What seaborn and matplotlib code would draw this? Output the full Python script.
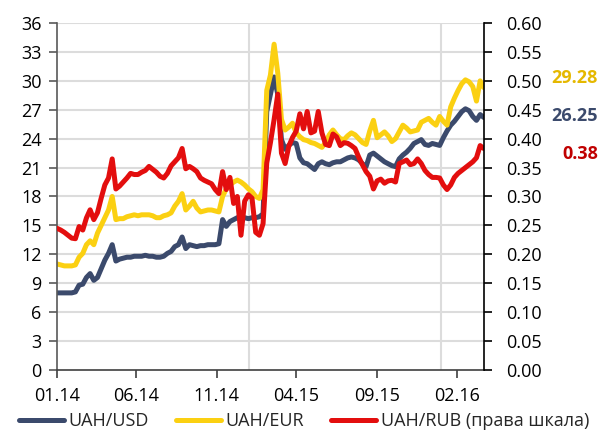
import matplotlib
matplotlib.use("Agg")
import matplotlib.pyplot as plt
import seaborn as sns
import pandas as pd

# ---------------- data (weekly readings) ----------------
start_date = "2014-01-01"
n_weeks = 117

usd = [8.0, 8.0, 8.0, 8.0, 8.0, 8.1, 8.8, 8.9, 9.6, 10.0,
       9.3, 9.6, 10.5, 11.4, 12.1, 13.0, 11.3, 11.5, 11.6, 11.7,
       11.7, 11.8, 11.8, 11.8, 11.9, 11.8, 11.8, 11.7, 11.7, 11.8,
       12.1, 12.3, 12.8, 13.0, 13.8, 12.6, 13.0, 12.9, 12.8, 12.9,
       12.9, 13.0, 13.0, 13.0, 13.1, 15.6, 14.9, 15.4, 15.6, 15.8,
       15.9, 15.8, 15.7, 15.8, 15.8, 15.9, 16.2, 26.8, 28.6, 30.4,
       28.6, 23.9, 22.9, 23.3, 23.6, 23.5, 22.0, 21.5, 21.4, 21.1,
       20.8, 21.4, 21.6, 21.4, 21.3, 21.5, 21.6, 21.6, 21.8, 22.0,
       22.1, 22.0, 21.8, 21.4, 21.1, 22.3, 22.5, 22.2, 21.9, 21.6,
       21.4, 21.2, 21.1, 21.9, 22.3, 22.6, 23.0, 23.5, 23.7, 23.9,
       23.4, 23.3, 23.5, 23.4, 23.3, 24.1, 24.8, 25.4, 25.8, 26.3,
       26.8, 27.1, 26.9, 26.3, 25.9, 26.5, 26.2]

eur = [11.0, 10.9, 10.8, 10.8, 10.8, 10.9, 11.7, 12.1, 13.0, 13.4,
       13.0, 14.2, 15.0, 15.8, 16.6, 18.0, 15.6, 15.7, 15.7, 15.9,
       16.0, 16.1, 16.0, 16.1, 16.1, 16.1, 16.0, 15.8, 15.8, 16.0,
       16.1, 16.3, 17.0, 17.5, 18.3, 16.6, 17.0, 17.5, 16.8, 16.4,
       16.5, 16.6, 16.6, 16.5, 16.4, 18.0, 18.8, 19.2, 19.5, 19.7,
       19.5, 19.2, 18.8, 18.5, 18.0, 17.8, 18.7, 29.0, 30.6, 33.8,
       30.8, 26.0, 24.9, 25.2, 25.6, 24.6, 24.2, 23.9, 23.8, 23.6,
       23.5, 23.3, 23.1, 23.6, 24.4, 24.9, 24.4, 24.0, 23.9, 24.3,
       24.6, 24.4, 24.0, 23.6, 23.4, 24.8, 25.9, 24.1, 24.4, 24.7,
       24.3, 23.7, 24.0, 24.7, 25.4, 25.1, 24.7, 24.8, 24.9, 25.7,
       25.9, 26.1, 25.7, 25.4, 26.3, 25.8, 25.4, 27.3, 28.2, 29.0,
       29.7, 30.1, 29.9, 29.4, 27.9, 30.0, 29.3]

rub = [0.245, 0.242, 0.238, 0.233, 0.228, 0.227, 0.248, 0.242, 0.263, 0.277,
       0.260, 0.272, 0.297, 0.320, 0.332, 0.365, 0.313, 0.318, 0.325, 0.332,
       0.340, 0.338, 0.338, 0.342, 0.345, 0.352, 0.347, 0.342, 0.335, 0.332,
       0.340, 0.353, 0.360, 0.367, 0.383, 0.348, 0.352, 0.348, 0.343, 0.332,
       0.328, 0.325, 0.322, 0.312, 0.305, 0.343, 0.312, 0.333, 0.288, 0.300,
       0.233, 0.292, 0.303, 0.297, 0.238, 0.233, 0.253, 0.358, 0.393, 0.433,
       0.477, 0.375, 0.357, 0.387, 0.402, 0.413, 0.443, 0.417, 0.447, 0.410,
       0.413, 0.447, 0.410, 0.390, 0.388, 0.408, 0.403, 0.388, 0.393, 0.392,
       0.388, 0.383, 0.368, 0.355, 0.343, 0.335, 0.313, 0.327, 0.330, 0.323,
       0.327, 0.328, 0.325, 0.357, 0.360, 0.363, 0.355, 0.357, 0.365, 0.357,
       0.345, 0.338, 0.333, 0.333, 0.332, 0.320, 0.312, 0.320, 0.333, 0.340,
       0.345, 0.350, 0.355, 0.360, 0.367, 0.388, 0.383]

series_labels = ["UAH/USD", "UAH/EUR", "UAH/RUB (права шкала)"]
last_labels = ["29.28", "26.25", "0.38"]
left_ticks = [0, 3, 6, 9, 12, 15, 18, 21, 24, 27, 30, 33, 36]
right_ticks = [0.00, 0.05, 0.10, 0.15, 0.20, 0.25, 0.30, 0.35, 0.40, 0.45, 0.50, 0.55, 0.60]
x_tick_dates = ["2014-01-01", "2014-06-01", "2014-11-01", "2015-04-01", "2015-09-01", "2016-02-01"]
x_tick_labels = ["01.14", "06.14", "11.14", "04.15", "09.15", "02.16"]
year_lines = ["2015-01-01", "2016-01-01"]

dates = pd.date_range(start_date, periods=n_weeks, freq="7D")
df = pd.DataFrame({"date": dates, "usd": usd, "eur": eur, "rub": rub})

# ---------------- style ----------------
sns.set_style("white")
plt.rcParams["font.family"] = ["Open Sans", "DejaVu Sans"]
FS = 13

c_usd = "#3B4A6C"
c_eur = "#FBD012"
c_rub = "#E30E0E"

fig = plt.figure(figsize=(6.02, 4.34), dpi=100)
ax = fig.add_axes([0.0947, 0.1475, 0.709, 0.7995])
ax2 = ax.twinx()

lw = 3.6
sns.lineplot(data=df, x="date", y="usd", ax=ax, color=c_usd, lw=lw, label=series_labels[0], legend=False)
sns.lineplot(data=df, x="date", y="eur", ax=ax, color=c_eur, lw=lw, label=series_labels[1], legend=False)
sns.lineplot(data=df, x="date", y="rub", ax=ax2, color=c_rub, lw=lw, label=series_labels[2], legend=False)

ax.set_ylim(0, 36)
ax2.set_ylim(0, 0.60)
ax.set_xlim(pd.Timestamp("2014-01-01"), pd.Timestamp("2016-03-23"))

ax.set_yticks(left_ticks)
ax.set_yticklabels([str(t) for t in left_ticks], fontsize=FS)
ax2.set_yticks(right_ticks)
ax2.set_yticklabels([f"{t:.2f}" for t in right_ticks], fontsize=FS)
ax.set_xticks([pd.Timestamp(d) for d in x_tick_dates])
ax.set_xticklabels(x_tick_labels, fontsize=FS)

ax.set_xlabel("")
ax.set_ylabel("")
ax2.set_ylabel("")

# grid
grid_c = "#DCDCDC"
for t in left_ticks[1:]:
    ax.axhline(t, color=grid_c, lw=1.5, zorder=0)
for d in year_lines:
    ax.axvline(pd.Timestamp(d), color=grid_c, lw=1.5, zorder=0)

# spines
for a in (ax, ax2):
    a.spines["top"].set_visible(False)
ax.spines["left"].set_color("#595959")
ax.spines["left"].set_linewidth(1.2)
ax.spines["bottom"].set_color("#404040")
ax.spines["bottom"].set_linewidth(1.2)
ax.spines["right"].set_visible(False)
ax2.spines["left"].set_visible(False)
ax2.spines["bottom"].set_visible(False)
ax2.spines["right"].set_color("#000000")
ax2.spines["right"].set_linewidth(1.2)

ax.tick_params(axis="y", which="both", left=True, length=6, width=1.2, color="#595959", pad=5, labelcolor="#000000")
ax.tick_params(axis="x", which="both", bottom=True, length=6, width=1.2, color="#404040", pad=6, labelcolor="#000000")
ax2.tick_params(axis="y", which="both", right=True, length=6, width=1.2, color="#000000", pad=10, labelcolor="#000000")

# end labels
fig.text(598 / 602, 1 - 78 / 434, last_labels[0], color="#E5B800", fontsize=FS, fontweight="bold", ha="right", va="center")
fig.text(598 / 602, 1 - 116 / 434, last_labels[1], color=c_usd, fontsize=FS, fontweight="bold", ha="right", va="center")
fig.text(598 / 602, 1 - 154 / 434, last_labels[2], color="#C00000", fontsize=FS, fontweight="bold", ha="right", va="center")

# legend
handles = ax.get_lines()[:2] + ax2.get_lines()[:1]
fig.legend(handles, series_labels, loc="center", bbox_to_anchor=(0.505, 0.03), ncol=3, frameon=False,
           fontsize=FS, handlelength=2.5, handletextpad=0.25, columnspacing=1.5, borderaxespad=0, borderpad=0)

fig.savefig("out.png", dpi=100)
